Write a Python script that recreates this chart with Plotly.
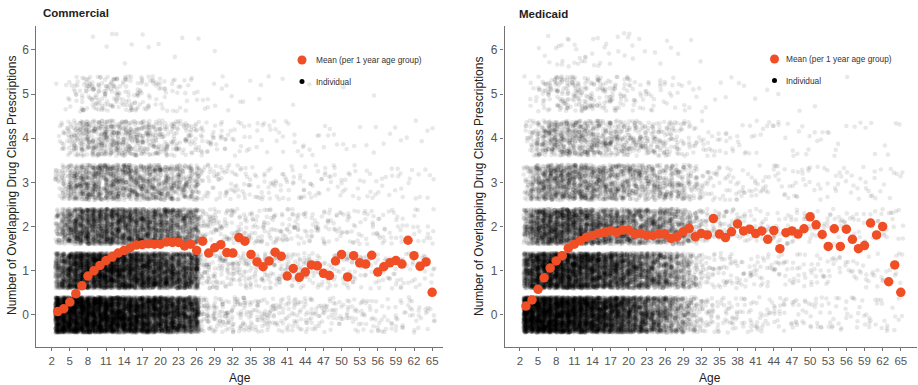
import plotly.graph_objects as go

# ---------------- data ----------------
AGES = list(range(3, 66))  # 63 one-year age groups
LEVELS = [0, 1, 2, 3, 4, 5, 6]
X_TICKS = [2, 5, 8, 11, 14, 17, 20, 23, 26, 29, 32, 35, 38, 41, 44, 47, 50, 53, 56, 59, 62, 65]
Y_TICKS = [0, 1, 2, 3, 4, 5, 6]

COM_MEAN = [0.075, 0.14, 0.29, 0.48, 0.66, 0.88, 1.00, 1.12, 1.23, 1.31,
            1.40, 1.46, 1.52, 1.58, 1.59, 1.61, 1.60, 1.60, 1.65, 1.64,
            1.64, 1.56, 1.60, 1.46, 1.67, 1.40, 1.52, 1.59, 1.41, 1.40,
            1.75, 1.67, 1.37, 1.20, 1.09, 1.22, 1.42, 1.33, 0.88, 1.05,
            0.85, 0.97, 1.13, 1.11, 0.94, 0.89, 1.22, 1.37, 0.86, 1.34,
            1.18, 1.15, 1.35, 0.97, 1.09, 1.18, 1.23, 1.15, 1.69, 1.34,
            1.10, 1.20, 0.51]

MED_MEAN = [0.20, 0.34, 0.58, 0.84, 1.06, 1.22, 1.34, 1.51, 1.60, 1.68,
            1.76, 1.80, 1.84, 1.87, 1.90, 1.87, 1.92, 1.92, 1.83, 1.84,
            1.80, 1.80, 1.83, 1.83, 1.73, 1.77, 1.88, 1.96, 1.77, 1.84,
            1.81, 2.18, 1.83, 1.75, 1.88, 2.06, 1.90, 1.94, 1.84, 1.90,
            1.71, 1.91, 1.50, 1.86, 1.90, 1.83, 1.95, 2.22, 2.04, 1.82,
            1.55, 1.95, 1.55, 1.94, 1.71, 1.50, 1.57, 2.08, 1.81, 2.00,
            0.75, 1.13, 0.51]

# estimated number of individuals per age (3..65) at each prescription count
COM_N0 = [400, 400, 400, 400, 390, 390, 380, 380, 370, 360, 350, 340, 330, 320, 310, 300, 290, 280, 270, 255, 240, 225, 210, 200,
          20, 19, 18, 18, 17, 16, 15, 15, 14, 14, 13, 13, 13, 12, 11, 11, 11, 11, 10, 10, 9, 9, 8, 8, 8, 8, 8, 7, 7, 7, 6, 6, 6, 6, 6, 6, 5, 5, 4]
COM_N1 = [120, 170, 230, 265, 280, 290, 290, 290, 290, 285, 275, 270, 260, 255, 245, 240, 230, 220, 210, 200, 190, 180, 170, 160,
          18, 18, 17, 17, 16, 15, 15, 14, 14, 13, 13, 13, 12, 12, 11, 11, 11, 10, 10, 9, 9, 8, 8, 8, 8, 8, 7, 7, 6, 6, 6, 6, 6, 6, 5, 5, 5, 4, 4]
COM_N2 = [40, 72, 112, 136, 152, 160, 160, 160, 160, 160, 160, 152, 152, 144, 144, 136, 136, 128, 120, 112, 104, 96, 88, 80,
          15, 15, 15, 14, 13, 13, 13, 12, 12, 11, 11, 11, 10, 10, 10, 9, 9, 8, 8, 8, 8, 8, 7, 7, 7, 6, 6, 6, 6, 6, 6, 5, 5, 5, 4, 4, 4, 4, 4]
COM_N3 = [14, 28, 49, 63, 70, 77, 77, 77, 77, 77, 74, 70, 70, 66, 63, 63, 60, 56, 52, 49, 46, 42, 38, 35,
          9, 9, 8, 8, 8, 8, 7, 7, 6, 6, 6, 6, 6, 6, 5, 5, 5, 5, 5, 5, 5, 4, 4, 4, 4, 3, 3, 3, 3, 3, 3, 3, 3, 3, 2, 2, 2, 2, 2]
COM_N4 = [3, 10, 20, 29, 36, 39, 40, 42, 42, 42, 40, 39, 36, 34, 31, 29, 26, 23, 21, 18, 16, 14, 13, 12,
          9, 8, 7, 6, 5, 5, 4, 3, 3, 3, 3, 3, 3, 3, 2, 2, 2, 2, 2, 2, 2, 2, 2, 1, 1, 1, 1, 1, 1, 1, 1, 1, 1, 1, 1, 1, 1, 1, 1]
COM_N5 = [1, 2, 5, 9, 13, 15, 17, 17, 17, 16, 15, 14, 13, 12, 10, 9, 8, 7, 6, 5, 5, 4, 3, 3,
          2, 2, 2, 2, 2, 1, 1, 1, 1, 1, 1, 1, 0, 1, 0, 1, 0, 0, 1, 0, 0, 0, 0, 1, 0, 0, 0, 0, 1, 0, 0, 0, 0, 0, 0, 0, 0, 0, 0]
COM_N6 = [0, 0, 0, 0, 0, 0, 1, 0, 1, 1, 1, 1, 1, 0, 1, 1, 0, 1, 0, 1, 0, 1, 0, 1,
          0, 0, 1, 0, 0, 0, 0, 0, 0, 0, 0, 0, 0, 0, 0, 0, 0, 0, 0, 0, 0, 0, 0, 0, 0, 0, 0, 0, 0, 0, 0, 0, 0, 0, 0, 0, 0, 0, 0]

MED_N0 = [400, 400, 400, 400, 390, 380, 370, 360, 350, 340, 330, 315, 300, 285, 270, 255, 235, 210, 185, 170, 155, 140, 128, 115,
          80, 70, 60, 48, 30, 18, 13, 11, 10, 9, 9, 8, 8, 8, 7, 7, 7, 6, 6, 6, 6, 6, 6, 5, 5, 5, 5, 5, 4, 4, 4, 4, 4, 4, 4, 4, 3, 3, 3]
MED_N1 = [170, 230, 275, 290, 290, 290, 285, 275, 270, 260, 250, 238, 225, 212, 200, 188, 176, 165, 154, 143, 132, 121, 110, 104,
          80, 70, 60, 45, 28, 16, 12, 10, 9, 9, 8, 8, 8, 7, 7, 7, 6, 6, 6, 6, 6, 6, 5, 5, 5, 5, 5, 4, 4, 4, 4, 4, 4, 4, 4, 3, 3, 3, 3]
MED_N2 = [68, 110, 153, 170, 178, 178, 178, 170, 170, 162, 153, 145, 136, 128, 119, 110, 106, 102, 98, 94, 89, 85, 81, 77,
          72, 68, 60, 46, 30, 18, 13, 11, 10, 9, 9, 8, 8, 8, 7, 7, 7, 7, 6, 6, 6, 6, 6, 6, 5, 5, 5, 5, 5, 5, 4, 4, 4, 4, 4, 4, 4, 4, 4]
MED_N3 = [22, 45, 68, 82, 90, 90, 90, 90, 86, 82, 79, 75, 71, 68, 64, 60, 56, 52, 49, 45, 44, 42, 40, 39,
          37, 34, 30, 24, 18, 12, 9, 7, 6, 6, 6, 6, 6, 5, 5, 5, 5, 4, 4, 4, 4, 4, 4, 4, 3, 3, 3, 3, 3, 3, 3, 3, 3, 3, 3, 3, 2, 2, 2]
MED_N4 = [7, 18, 32, 42, 49, 52, 52, 52, 50, 49, 46, 43, 41, 38, 35, 32, 29, 27, 25, 24, 22, 21, 20, 18,
          17, 14, 11, 8, 7, 6, 5, 4, 4, 4, 3, 3, 3, 3, 3, 2, 2, 2, 2, 2, 2, 2, 2, 2, 2, 2, 2, 2, 1, 1, 1, 1, 1, 1, 1, 1, 1, 1, 1]
MED_N5 = [1, 4, 7, 11, 15, 18, 20, 20, 20, 19, 18, 17, 15, 14, 13, 11, 10, 8, 7, 6, 6, 5, 4, 4,
          4, 3, 3, 2, 2, 2, 1, 1, 1, 1, 1, 1, 1, 0, 1, 0, 1, 0, 1, 0, 0, 1, 0, 0, 1, 0, 0, 0, 0, 1, 0, 0, 0, 0, 0, 0, 0, 0, 0]
MED_N6 = [0, 0, 1, 1, 2, 3, 3, 3, 3, 3, 3, 3, 3, 2, 2, 2, 2, 2, 2, 1, 1, 1, 1, 1,
          1, 1, 0, 1, 0, 1, 0, 0, 0, 0, 0, 0, 0, 0, 0, 0, 0, 0, 0, 0, 0, 0, 0, 0, 0, 0, 0, 0, 0, 0, 0, 0, 0, 0, 0, 0, 0, 0, 0]

COM_COUNTS = [COM_N0, COM_N1, COM_N2, COM_N3, COM_N4, COM_N5, COM_N6]
MED_COUNTS = [MED_N0, MED_N1, MED_N2, MED_N3, MED_N4, MED_N5, MED_N6]

for arr in COM_COUNTS + MED_COUNTS:
    assert len(arr) == len(AGES), len(arr)
assert len(COM_MEAN) == len(AGES) and len(MED_MEAN) == len(AGES)

# ---------------- jitter (deterministic integer hash, positions only) ----------------
MASK = (1 << 64) - 1
JW = 0.4  # jitter half-width


def hash01(k):
    z = (k * 0x9E3779B97F4A7C15) & MASK
    z = ((z ^ (z >> 30)) * 0xBF58476D1CE4E5B9) & MASK
    z = ((z ^ (z >> 27)) * 0x94D049BB133111EB) & MASK
    z ^= z >> 31
    return z / 2.0 ** 64


def jitter(counts, salt):
    xs, ys = [], []
    k = salt
    for lv, arr in zip(LEVELS, counts):
        for age, n in zip(AGES, arr):
            for i in range(n):
                k += 2
                u = hash01(k)
                v = hash01(k + 1)
                xs.append(round(age + (2 * u - 1) * JW, 3))
                ys.append(round(lv + (2 * v - 1) * JW, 3))
    return xs, ys


RED = "#F04E25"
FONT = "Liberation Sans, Arial, sans-serif"

fig = go.Figure()

panels = [
    ("x", "y", COM_COUNTS, COM_MEAN, 1000),
    ("x2", "y2", MED_COUNTS, MED_MEAN, 5000000),
]
for xa, ya, counts, means, salt in panels:
    jx, jy = jitter(counts, salt)
    fig.add_trace(go.Scatter(
        x=jx, y=jy, mode="markers", xaxis=xa, yaxis=ya,
        marker=dict(size=4.6, color="rgba(0,0,0,0.09)", line=dict(width=0)),
        hoverinfo="skip", showlegend=False))
    fig.add_trace(go.Scatter(
        x=AGES, y=means, mode="markers", xaxis=xa, yaxis=ya,
        marker=dict(size=9.5, color=RED, line=dict(width=0)),
        showlegend=False))

W, H = 918, 385
L_DOM = [36 / W, 443 / W]
R_DOM = [504.5 / W, 916.5 / W]
Y_DOM = [1 - 346.7 / H, 1 - 26 / H]

axis_common = dict(
    showgrid=False, zeroline=False, showline=True, linecolor="#737373", linewidth=1.1,
    ticks="outside", ticklen=3.5, tickwidth=1, tickcolor="#737373",
    tickfont=dict(family=FONT, size=12, color="#555555"),
)
xcommon = dict(axis_common, tickmode="array", tickvals=X_TICKS, ticktext=[str(t) for t in X_TICKS],
               tickfont=dict(family=FONT, size=11.5, color="#555555"))
ycommon = dict(axis_common, tickmode="array", tickvals=Y_TICKS, ticktext=[str(t) for t in Y_TICKS],
               range=[-0.72, 6.54])

fig.update_layout(
    width=W, height=H, margin=dict(l=0, r=0, t=0, b=0),
    plot_bgcolor="white", paper_bgcolor="white", showlegend=False,
    xaxis=dict(xcommon, domain=L_DOM, range=[-0.6, 66.8], anchor="y"),
    yaxis=dict(ycommon, domain=Y_DOM, anchor="x"),
    xaxis2=dict(xcommon, domain=R_DOM, range=[-0.55, 67.6], anchor="y2"),
    yaxis2=dict(ycommon, domain=Y_DOM, anchor="x2"),
)

# ---------------- text: titles, axis titles, legends ----------------
def px(xp):
    return xp / W


def py(yp):
    return 1 - yp / H


ann = []
ann.append(dict(text="<b>Commercial</b>", x=px(41), y=py(13), xanchor="left", yanchor="middle",
                font=dict(family=FONT, size=11.5, color="#222222")))
ann.append(dict(text="<b>Medicaid</b>", x=px(516.5), y=py(14), xanchor="left", yanchor="middle",
                font=dict(family=FONT, size=11.5, color="#222222")))
for xc in (12, 479):
    ann.append(dict(text="Number of Overlapping Drug Class Prescriptions", x=px(xc), y=py(186),
                    xanchor="center", yanchor="middle", textangle=-90,
                    font=dict(family=FONT, size=12, color="#222222")))
for xc in (240, 710):
    ann.append(dict(text="Age", x=px(xc), y=py(378), xanchor="center", yanchor="middle",
                    font=dict(family=FONT, size=12, color="#222222")))

legends = [(302, 314, 60, 81.5), (774.5, 784, 59, 80.5)]
shapes = []
for dot_x, txt_x, y_mean, y_ind in legends:
    ann.append(dict(text="Mean (per 1 year age group)", x=px(txt_x), y=py(y_mean), xanchor="left",
                    yanchor="middle", font=dict(family=FONT, size=8.3, color="#333333")))
    ann.append(dict(text="Individual", x=px(txt_x), y=py(y_ind), xanchor="left",
                    yanchor="middle", font=dict(family=FONT, size=8.3, color="#333333")))
    shapes.append(dict(type="circle", xref="paper", yref="paper", xsizemode="pixel", ysizemode="pixel",
                       xanchor=px(dot_x), yanchor=py(y_mean), x0=-4.5, x1=4.5, y0=-4.5, y1=4.5,
                       fillcolor=RED, line=dict(width=0)))
    shapes.append(dict(type="circle", xref="paper", yref="paper", xsizemode="pixel", ysizemode="pixel",
                       xanchor=px(dot_x), yanchor=py(y_ind), x0=-2.5, x1=2.5, y0=-2.5, y1=2.5,
                       fillcolor="black", line=dict(width=0)))

for a in ann:
    a.update(xref="paper", yref="paper", showarrow=False)
fig.update_layout(annotations=ann, shapes=shapes)

fig.write_html("out.html")
